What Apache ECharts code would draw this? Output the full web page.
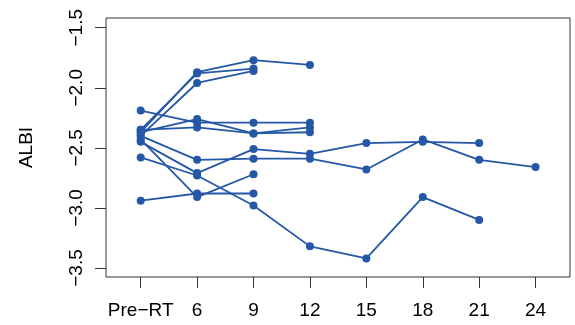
<!DOCTYPE html>
<html>
<head>
<meta charset="utf-8">
<script src="https://cdn.jsdelivr.net/npm/echarts@6/dist/echarts.min.js"></script>
<style>html,body{margin:0;padding:0;background:#fff}#c{width:575px;height:325px}</style>
</head>
<body>
<div id="c"></div>
<script>
// Time points (x-axis categories)
var categories = ["Pre\u2212RT", "6", "9", "12", "15", "18", "21", "24"];
// Y-axis tick labels
var yTicks = [-3.5, -3.0, -2.5, -2.0, -1.5];
// Individual patient ALBI trajectories (values in category order)
var p1  = [-2.37, -1.87, -1.77, -1.81];
var p2  = [-2.35, -1.88, -1.84];
var p3  = [-2.40, -1.96, -1.86];
var p4  = [-2.37, -2.26, -2.38, -2.33];
var p5  = [-2.19, -2.29, -2.29, -2.29];
var p6  = [-2.35, -2.33, -2.38, -2.37];
var p7  = [-2.40, -2.60, -2.59, -2.59, -2.68, -2.43, -2.60, -2.66];
var p8  = [-2.45, -2.71, -2.51, -2.55, -2.46, -2.45, -2.46];
var p9  = [-2.58, -2.73, -2.98, -3.32, -3.42, -2.91, -3.10];
var p10 = [-2.43, -2.91, -2.72];
var p11 = [-2.94, -2.88, -2.88];
var patients = [p1, p2, p3, p4, p5, p6, p7, p8, p9, p10, p11];

var blue = '#2557a7';
var series = patients.map(function (arr) {
  return {
    type: 'line',
    data: arr.map(function (v, i) { return [i + 1, v]; }),
    symbol: 'circle',
    symbolSize: 8,
    lineStyle: { color: blue, width: 1.8 },
    itemStyle: { color: blue },
    silent: true,
    animation: false
  };
});

var chart = echarts.init(document.getElementById('c'), null, { renderer: 'canvas' });
var tickPos = categories.map(function (c, i) { return i + 1; });
var font = 'Liberation Sans, Arial, Helvetica, sans-serif';
chart.setOption({
  animation: false,
  grid: { left: 106, right: 5, top: 18, bottom: 48, show: true, borderColor: '#333', borderWidth: 1, backgroundColor: 'transparent' },
  xAxis: {
    type: 'value', min: 0.385, max: 8.61,
    axisLine: { show: false },
    splitLine: { show: false },
    axisTick: { show: true, length: 11, customValues: tickPos, lineStyle: { color: '#333' } },
    axisLabel: {
      customValues: tickPos, margin: 24, color: '#000', fontSize: 19, fontFamily: font,
      formatter: function (v) { return categories[Math.round(v) - 1]; }
    }
  },
  yAxis: {
    type: 'value', min: -3.575, max: -1.419,
    name: 'ALBI', nameLocation: 'middle', nameGap: 70, nameRotate: 90,
    nameTextStyle: { color: '#000', fontSize: 19, fontFamily: font },
    axisLine: { show: false },
    splitLine: { show: false },
    axisTick: { show: true, length: 11, customValues: yTicks, lineStyle: { color: '#333' } },
    axisLabel: {
      customValues: yTicks, rotate: 90, margin: 20, color: '#000', fontSize: 19, fontFamily: font,
      formatter: function (v) { return v.toFixed(1).replace('-', '\u2212'); }
    }
  },
  series: series
});
</script>
</body>
</html>
